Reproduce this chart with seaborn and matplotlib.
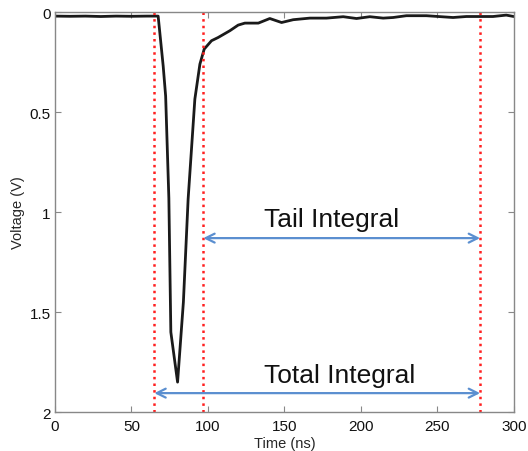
import matplotlib
matplotlib.use("Agg")
import matplotlib.pyplot as plt
import seaborn as sns
import pandas as pd

# Waveform data (time in ns, voltage in V; plotted on inverted axis)
time_ns = [0, 10, 20, 30, 40, 50, 60, 66, 67.5, 70.8, 72.4, 74.5, 75.8, 80.2,
           84.0, 87.1, 91.5, 94.8, 97.6, 102.4, 106.7, 114.4, 119.8, 124.2,
           133.0, 140.5, 148.2, 155.8, 166.7, 177.6, 188.5, 197.2, 205.9,
           214.6, 221.1, 229.8, 242.9, 260.3, 269.0, 286.4, 295.1, 300]
voltage = [0.02, 0.021, 0.02, 0.022, 0.02, 0.021, 0.02, 0.02, 0.02, 0.27, 0.42,
           0.93, 1.60, 1.85, 1.45, 0.935, 0.435, 0.26, 0.185, 0.143, 0.127,
           0.093, 0.065, 0.055, 0.055, 0.032, 0.052, 0.038, 0.03, 0.03, 0.023,
           0.032, 0.023, 0.03, 0.027, 0.018, 0.018, 0.027, 0.022, 0.022,
           0.015, 0.022]

marker_times = [65, 97, 278]
tail_range = [97, 278]
total_range = [65, 278]
tail_arrow_v = 1.13
total_arrow_v = 1.905
annotations = ["Tail Integral", "Total Integral"]
x_ticks = [0, 50, 100, 150, 200, 250, 300]
y_ticks = [0, 0.5, 1, 1.5, 2]
y_tick_labels = ["0", "0.5", "1", "1.5", "2"]

sns.set_style("white")
plt.rcParams["font.family"] = ["Liberation Sans", "DejaVu Sans"]

fig = plt.figure(figsize=(5.28, 4.52), dpi=100)
ax = fig.add_axes([0.104, 0.086, 0.869, 0.885])

df = pd.DataFrame({"Time (ns)": time_ns, "Voltage (V)": voltage})
sns.lineplot(data=df, x="Time (ns)", y="Voltage (V)", ax=ax, color="#1a1a1a",
             lw=2.0, sort=False)

for t in marker_times:
    ax.axvline(t, color="#ff2020", ls=":", lw=1.8)

arrow_color = "#5b8fd0"
ax.annotate("", xy=(tail_range[0], tail_arrow_v), xytext=(tail_range[1], tail_arrow_v),
            arrowprops=dict(arrowstyle="<->", color=arrow_color, lw=1.6,
                            shrinkA=0, shrinkB=0, mutation_scale=16))
ax.annotate("", xy=(total_range[0], total_arrow_v), xytext=(total_range[1], total_arrow_v),
            arrowprops=dict(arrowstyle="<->", color=arrow_color, lw=1.6,
                            shrinkA=0, shrinkB=0, mutation_scale=16))

ax.text(181, 1.07, annotations[0], ha="center", va="baseline", fontsize=19,
        color="#111111")
ax.text(186, 1.85, annotations[1], ha="center", va="baseline", fontsize=19,
        color="#111111")

ax.set_xlim(0, 300)
ax.set_ylim(2, 0)
ax.set_xticks(x_ticks)
ax.set_yticks(y_ticks)
ax.set_yticklabels(y_tick_labels)
ax.set_xlabel("Time (ns)", fontsize=10.5, labelpad=2)
ax.set_ylabel("Voltage (V)", fontsize=10.5, labelpad=3)
ax.tick_params(direction="in", length=4, width=0.8, color="#888888",
               labelsize=11, top=True, right=True, bottom=True, left=True, pad=3,
               labelcolor="#111111")
ax.tick_params(axis="x", pad=5)
for s in ax.spines.values():
    s.set_color("#888888")
    s.set_linewidth(1.0)
    s.set_visible(True)

fig.savefig("out.png", dpi=100)
